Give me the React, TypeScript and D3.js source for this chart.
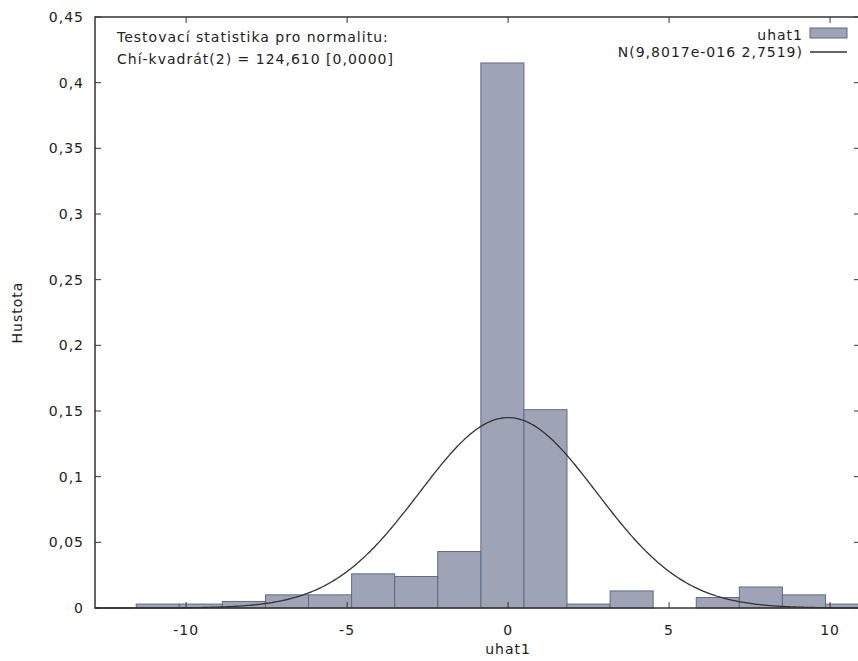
import { useEffect, useRef } from "react";
import * as d3 from "d3";

const binStart = -11.55;
const binWidth = 1.338;
const density = [0.003, 0.003, 0.005, 0.01, 0.01, 0.026, 0.024, 0.043, 0.415, 0.151, 0.003, 0.013, 0, 0.008, 0.016, 0.01, 0.003];
const yTicks = [0, 0.05, 0.1, 0.15, 0.2, 0.25, 0.3, 0.35, 0.4, 0.45];
const xTicks = [-10, -5, 0, 5, 10];
const mu = 9.8017e-16;
const sigma = 2.7519;

const App = () => {
  const ref = useRef<SVGSVGElement>(null);

  useEffect(() => {
    const svg = d3.select(ref.current);
    svg.selectAll("*").remove();
    const left = 95, right = 860, top = 17, bottom = 608;
    const x = d3.scaleLinear().domain([-12.83, 10.93]).range([left, right]);
    const y = d3.scaleLinear().domain([0, 0.45]).range([bottom, top]);
    const font = "DejaVu Sans, Verdana, sans-serif";

    const bars = density.map((d, i) => ({ x0: binStart + i * binWidth, x1: binStart + (i + 1) * binWidth, d }));
    svg.append("g").selectAll("rect").data(bars.filter(b => b.d > 0)).join("rect")
      .attr("x", b => x(b.x0)).attr("width", b => x(b.x1) - x(b.x0))
      .attr("y", b => y(b.d)).attr("height", b => y(0) - y(b.d))
      .attr("fill", "#9ea4b5").attr("stroke", "#5f6b87").attr("stroke-width", 1);

    const pts = d3.range(-12.83, 10.94, 0.05);
    const line = d3.line<number>().x(v => x(v))
      .y(v => y(Math.exp(-0.5 * ((v - mu) / sigma) ** 2) / (sigma * Math.sqrt(2 * Math.PI))));
    svg.append("path").datum(pts).attr("d", line).attr("fill", "none").attr("stroke", "#333").attr("stroke-width", 1.3);

    // frame
    svg.append("rect").attr("x", left).attr("y", top).attr("width", right - left).attr("height", bottom - top)
      .attr("fill", "none").attr("stroke", "#333").attr("stroke-width", 1.5);

    const g = svg.append("g").attr("font-family", font).attr("font-size", 14)
      .attr("letter-spacing", 1).attr("fill", "#222");
    yTicks.forEach(t => {
      g.append("line").attr("x1", left).attr("x2", left + 6).attr("y1", y(t)).attr("y2", y(t)).attr("stroke", "#333");
      g.append("line").attr("x1", right - 6).attr("x2", right).attr("y1", y(t)).attr("y2", y(t)).attr("stroke", "#333");
      g.append("text").attr("x", left - 11).attr("y", y(t) + 5).attr("text-anchor", "end")
        .text(d3.format("")(t).replace(".", ","));
    });
    xTicks.forEach(t => {
      g.append("line").attr("x1", x(t)).attr("x2", x(t)).attr("y1", bottom).attr("y2", bottom - 6).attr("stroke", "#333");
      g.append("line").attr("x1", x(t)).attr("x2", x(t)).attr("y1", top).attr("y2", top + 6).attr("stroke", "#333");
      g.append("text").attr("x", x(t)).attr("y", bottom + 27).attr("text-anchor", "middle").text(String(t));
    });
    g.append("text").attr("x", x(0)).attr("y", 654).attr("text-anchor", "middle").text("uhat1");
    g.append("text").attr("transform", `translate(22,${(top + bottom) / 2}) rotate(-90)`).attr("text-anchor", "middle").text("Hustota");

    g.append("text").attr("x", 117).attr("y", 42).text("Testovací statistika pro normalitu:");
    g.append("text").attr("x", 117).attr("y", 64).text("Chí-kvadrát(2) = 124,610 [0,0000]");

    g.append("text").attr("x", 803).attr("y", 40).attr("text-anchor", "end").text("uhat1");
    g.append("rect").attr("x", 810).attr("y", 28).attr("width", 37).attr("height", 10)
      .attr("fill", "#9ea4b5").attr("stroke", "#5f6b87");
    g.append("text").attr("x", 803).attr("y", 57).attr("text-anchor", "end").text("N(9,8017e-016 2,7519)");
    g.append("line").attr("x1", 810).attr("x2", 847).attr("y1", 52).attr("y2", 52).attr("stroke", "#333").attr("stroke-width", 1.3);
  }, []);

  return <svg ref={ref} width={858} height={661} style={{ position: "absolute", left: 0, top: 0, background: "#fff" }} />;
};

export default App;
